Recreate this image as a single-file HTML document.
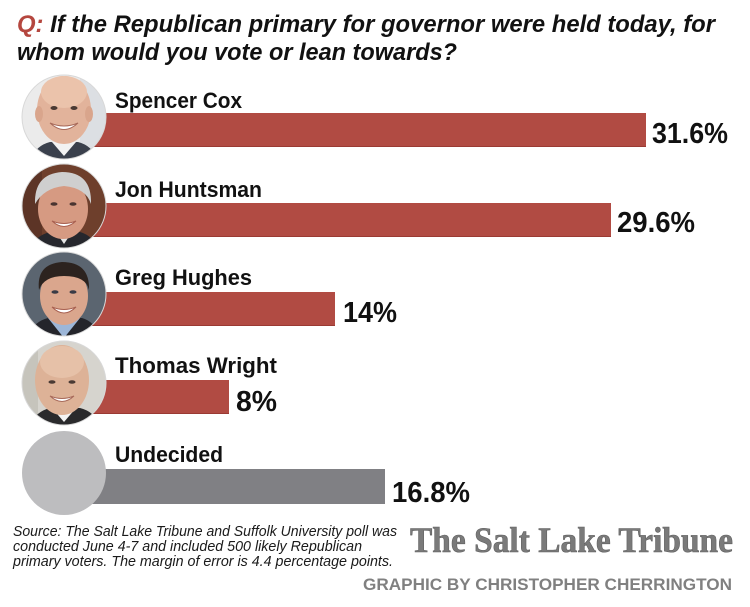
<!DOCTYPE html>
<html><head><meta charset="utf-8"><style>
html,body{margin:0;padding:0;background:#fff;}
svg{display:block;}
text{font-family:"Liberation Sans",sans-serif;}
</style></head><body>
<svg width="750" height="607" viewBox="0 0 750 607" xmlns="http://www.w3.org/2000/svg">
<defs>
<clipPath id="c1"><circle cx="64" cy="117" r="42"/></clipPath>
<clipPath id="c2"><circle cx="64" cy="206" r="42"/></clipPath>
<clipPath id="c3"><circle cx="64" cy="294" r="42"/></clipPath>
<clipPath id="c4"><circle cx="64" cy="383" r="42"/></clipPath>
</defs>
<rect width="750" height="607" fill="#fff"/>

<!-- Title -->
<text x="17" y="32" font-size="24" font-weight="bold" font-style="italic" fill="#111" textLength="698" lengthAdjust="spacingAndGlyphs"><tspan fill="#b5473f">Q:</tspan> If the Republican primary for governor were held today, for</text>
<text x="17" y="60" font-size="24" font-weight="bold" font-style="italic" fill="#111" textLength="440" lengthAdjust="spacingAndGlyphs">whom would you vote or lean towards?</text>

<!-- Bars -->
<rect x="90" y="113" width="556" height="34" fill="#b14b43"/>
<rect x="90" y="146" width="556" height="1" fill="#9a3a33"/>
<rect x="90" y="203" width="521" height="34" fill="#b14b43"/>
<rect x="90" y="236" width="521" height="1" fill="#9a3a33"/>
<rect x="90" y="292" width="245" height="34" fill="#b14b43"/>
<rect x="90" y="325" width="245" height="1" fill="#9a3a33"/>
<rect x="90" y="380" width="139" height="34" fill="#b14b43"/>
<rect x="90" y="413" width="139" height="1" fill="#9a3a33"/>
<rect x="90" y="469" width="295" height="35" fill="#808084"/>

<!-- Names -->
<g font-size="22" font-weight="bold" fill="#111">
<text x="115" y="108" textLength="127" lengthAdjust="spacingAndGlyphs">Spencer Cox</text>
<text x="115" y="197" textLength="147" lengthAdjust="spacingAndGlyphs">Jon Huntsman</text>
<text x="115" y="285" textLength="137" lengthAdjust="spacingAndGlyphs">Greg Hughes</text>
<text x="115" y="373" textLength="162" lengthAdjust="spacingAndGlyphs">Thomas Wright</text>
<text x="115" y="462" textLength="108" lengthAdjust="spacingAndGlyphs">Undecided</text>
</g>

<!-- Percentages -->
<g font-size="29" font-weight="bold" fill="#111">
<text x="652" y="143" textLength="76" lengthAdjust="spacingAndGlyphs">31.6%</text>
<text x="617" y="232" textLength="78" lengthAdjust="spacingAndGlyphs">29.6%</text>
<text x="343" y="322" textLength="54" lengthAdjust="spacingAndGlyphs">14%</text>
<text x="236" y="411" textLength="41" lengthAdjust="spacingAndGlyphs">8%</text>
<text x="392" y="502" textLength="78" lengthAdjust="spacingAndGlyphs">16.8%</text>
</g>

<!-- Photo 1: Cox -->
<g clip-path="url(#c1)">
<rect x="20" y="73" width="90" height="90" fill="#ebebeb"/>
<rect x="80" y="73" width="30" height="90" fill="#dcdfe3"/>
<path d="M30 163 Q34 146 50 142 L78 142 Q94 146 98 163 Z" fill="#3a404c"/>
<path d="M52 142 L64 156 L76 142 Z" fill="#f2f2f2"/>
<ellipse cx="64" cy="110" rx="27" ry="34" fill="#e2b39b"/>
<ellipse cx="64" cy="92" rx="23" ry="16" fill="#ebc3ab"/>
<ellipse cx="39" cy="114" rx="4" ry="8" fill="#d9a58c"/>
<ellipse cx="89" cy="114" rx="4" ry="8" fill="#d9a58c"/>
<ellipse cx="54" cy="108" rx="3.5" ry="2" fill="#4a3a34"/>
<ellipse cx="74" cy="108" rx="3.5" ry="2" fill="#4a3a34"/>
<path d="M50 123 Q64 136 78 123 Q64 129 50 123 Z" fill="#fff" stroke="#a86a5a" stroke-width="1"/>
</g>

<!-- Photo 2: Huntsman -->
<g clip-path="url(#c2)">
<rect x="20" y="162" width="90" height="90" fill="#6e3f2c"/>
<rect x="20" y="162" width="22" height="90" fill="#5c3426"/>
<path d="M28 252 Q34 236 50 232 L80 232 Q94 236 100 252 Z" fill="#26272d"/>
<path d="M56 232 L64 244 L72 232 Z" fill="#e6e6e6"/>
<ellipse cx="63" cy="209" rx="25" ry="30" fill="#d69a82"/>
<path d="M35 204 Q34 174 62 172 Q92 172 91 204 Q86 188 64 186 Q44 188 35 204 Z" fill="#cfcfcf"/>
<ellipse cx="54" cy="204" rx="3.5" ry="1.8" fill="#4a3430"/>
<ellipse cx="73" cy="204" rx="3.5" ry="1.8" fill="#4a3430"/>
<path d="M52 221 Q64 232 76 221 Q64 226 52 221 Z" fill="#fff" stroke="#a86050" stroke-width="1"/>
</g>

<!-- Photo 3: Hughes -->
<g clip-path="url(#c3)">
<rect x="20" y="250" width="90" height="90" fill="#5b6570"/>
<path d="M26 340 Q32 322 48 318 L82 318 Q96 322 102 340 Z" fill="#24252b"/>
<path d="M48 318 L64 338 L80 318 Z" fill="#9cb6d8"/>
<ellipse cx="64" cy="296" rx="24" ry="29" fill="#daa68d"/>
<path d="M39 290 Q36 264 62 262 Q90 262 89 290 Q86 276 64 276 Q44 276 39 290 Z" fill="#2c231f"/>
<ellipse cx="55" cy="292" rx="3.5" ry="1.8" fill="#3a3b46"/>
<ellipse cx="73" cy="292" rx="3.5" ry="1.8" fill="#3a3b46"/>
<path d="M52 307 Q64 319 76 307 Q64 312 52 307 Z" fill="#fff" stroke="#a86050" stroke-width="1"/>
</g>

<!-- Photo 4: Wright -->
<g clip-path="url(#c4)">
<rect x="20" y="339" width="90" height="90" fill="#d6d4ce"/>
<rect x="20" y="339" width="18" height="90" fill="#c6c4bc"/>
<path d="M28 429 Q34 412 50 408 L80 408 Q96 412 102 429 Z" fill="#2a2a2c"/>
<path d="M52 408 L64 422 L76 408 Z" fill="#f4f4f4"/>
<ellipse cx="62" cy="380" rx="27" ry="35" fill="#ddb297"/>
<ellipse cx="62" cy="362" rx="22" ry="16" fill="#e6c1a8"/>
<ellipse cx="52" cy="382" rx="3.5" ry="1.8" fill="#4a3a34"/>
<ellipse cx="72" cy="382" rx="3.5" ry="1.8" fill="#4a3a34"/>
<path d="M50 396 Q62 407 74 396 Q62 401 50 396 Z" fill="#fff" stroke="#a86a5a" stroke-width="1"/>
</g>

<!-- circle outlines -->
<g fill="none" stroke="#d8d8d8" stroke-width="1">
<circle cx="64" cy="117" r="42"/>
<circle cx="64" cy="206" r="42"/>
<circle cx="64" cy="294" r="42"/>
<circle cx="64" cy="383" r="42"/>
</g>

<!-- Photo 5: Undecided -->
<circle cx="64" cy="473" r="42" fill="#bdbdbf"/>

<!-- Source -->
<g font-size="15" font-style="italic" fill="#1a1a1a">
<text x="13" y="536" textLength="384" lengthAdjust="spacingAndGlyphs">Source: The Salt Lake Tribune and Suffolk University poll was</text>
<text x="13" y="551" textLength="349" lengthAdjust="spacingAndGlyphs">conducted June 4-7 and included 500 likely Republican</text>
<text x="13" y="566" textLength="380" lengthAdjust="spacingAndGlyphs">primary voters. The margin of error is 4.4 percentage points.</text>
</g>

<!-- Logo -->
<text x="410" y="552" style="font-family:'Liberation Serif',serif;" font-size="36" font-weight="bold" fill="#7a7a7a" stroke="#5e5e5e" stroke-width="0.6" textLength="323" lengthAdjust="spacingAndGlyphs">The Salt Lake Tribune</text>
<text x="363" y="590" font-size="17" font-weight="bold" fill="#808080" textLength="369" lengthAdjust="spacingAndGlyphs">GRAPHIC BY CHRISTOPHER CHERRINGTON</text>
</svg>
</body></html>
